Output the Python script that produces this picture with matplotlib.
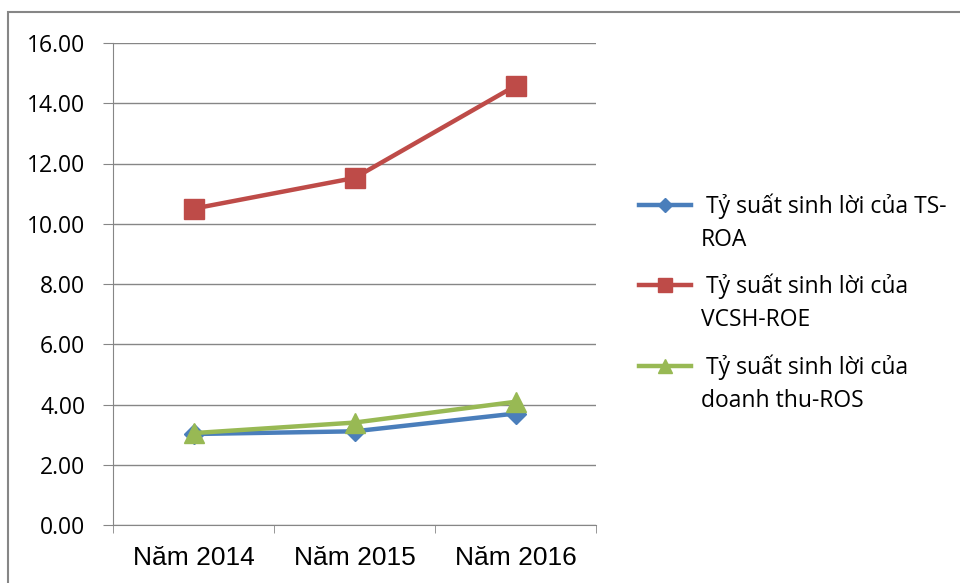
import matplotlib.pyplot as plt
from matplotlib.patches import Rectangle

years = ['Năm 2014', 'Năm 2015', 'Năm 2016']
roa = [3.02, 3.11, 3.70]
roe = [10.50, 11.52, 14.58]
ros = [3.05, 3.40, 4.09]
first_lines = ['Tỷ suất sinh lời của TS-',
               'Tỷ suất sinh lời của',
               'Tỷ suất sinh lời của']
second_lines = ['ROA', 'VCSH-ROE', 'doanh thu-ROS']
yticks = [0, 2, 4, 6, 8, 10, 12, 14, 16]

plt.rcParams['font.family'] = ['Open Sans', 'DejaVu Sans']

fig = plt.figure(figsize=(9.6, 5.83), dpi=100)
fig.patches.append(Rectangle((8 / 960, -0.1), 1.2, 1 - 12 / 583 + 0.1,
                             transform=fig.transFigure, fill=False,
                             edgecolor='#868686', linewidth=1.5))
ax = fig.add_axes([113 / 960, 1 - 525 / 583, 483 / 960, 482 / 583])

x = list(range(len(years)))
ax.plot(x, roa, color='#4A7EBB', lw=3.2, marker='D', ms=10, label=first_lines[0])
ax.plot(x, roe, color='#BE4B48', lw=3.2, marker='s', ms=14, label=first_lines[1])
ax.plot(x, ros, color='#98B954', lw=3.2, marker='^', ms=14, label=first_lines[2])

ax.set_xlim(-0.5, 2.5)
ax.set_ylim(0, 16)
ax.set_yticks(yticks)
ax.set_yticklabels([f'{v:.2f}' for v in yticks])
ax.set_xticks(x)
ax.set_xticklabels(years, fontfamily='Liberation Sans', fontsize=19)
ax.set_xticks([-0.5, 0.5, 1.5, 2.5], minor=True)
ax.tick_params(axis='x', which='major', length=0, pad=15)
ax.tick_params(axis='x', which='minor', length=6, color='#868686')
ax.tick_params(axis='y', length=7, color='#868686', labelsize=16.5, pad=13)
ax.grid(axis='y', color='#868686', lw=1)
ax.set_axisbelow(True)
for s in ['top', 'right']:
    ax.spines[s].set_visible(False)
for s in ['left', 'bottom']:
    ax.spines[s].set_color('#868686')

# legend: handle aligned to first line, second line added below
leg = fig.legend(loc='upper left', bbox_to_anchor=(630 / 960, 1 - 184 / 583),
                 frameon=False, fontsize=16.5, handlelength=2.27,
                 labelspacing=2.4, handletextpad=0.65, markerscale=0.75,
                 borderaxespad=0)
fig.canvas.draw()
inv = fig.transFigure.inverted()
for t, extra in zip(leg.get_texts(), second_lines):
    bb = t.get_window_extent()
    x0, y0 = inv.transform((bb.x0 - 5, bb.y0 - 33))
    fig.text(x0, y0, extra, fontsize=16.5, ha='left', va='bottom')

fig.savefig('out.png', dpi=100)
